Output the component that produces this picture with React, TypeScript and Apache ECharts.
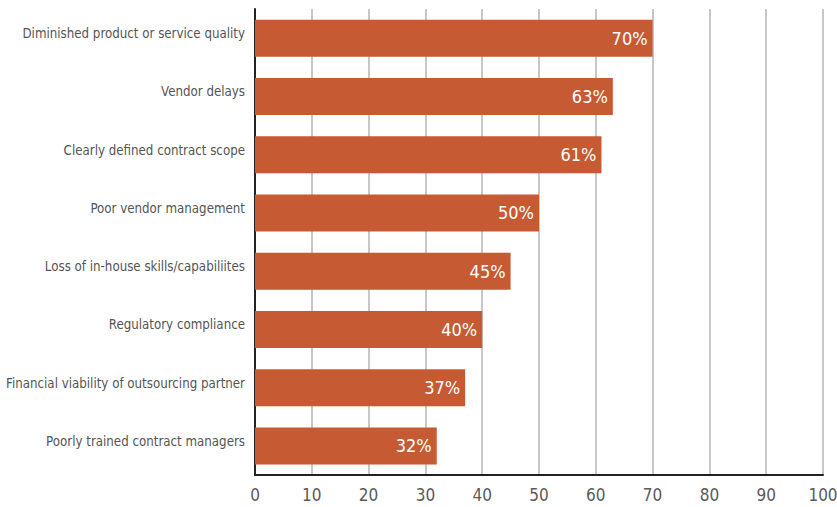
import React, { useEffect, useRef } from "react";
import * as echarts from "echarts";

const categories = [
  "Diminished product or service quality",
  "Vendor delays",
  "Clearly defined contract scope",
  "Poor vendor management",
  "Loss of in-house skills/capabiliites",
  "Regulatory compliance",
  "Financial viability of outsourcing partner",
  "Poorly trained contract managers",
];
const values = [70, 63, 61, 50, 45, 40, 37, 32];
const xTicks = { min: 0, max: 100, interval: 10 };

const FONT = '"DejaVu Sans Condensed", "Liberation Sans Narrow", sans-serif';

export default function App() {
  const ref = useRef<HTMLDivElement>(null);
  useEffect(() => {
    if (!ref.current) return;
    const chart = echarts.init(ref.current, null, { renderer: "svg" });
    chart.setOption({
      animation: false,
      grid: { left: 255, right: 14, top: 9, bottom: 32, containLabel: false, outerBoundsMode: "none" },
      xAxis: {
        type: "value",
        min: xTicks.min,
        max: xTicks.max,
        interval: xTicks.interval,
        axisLine: { show: true, lineStyle: { color: "#222", width: 2 } },
        axisTick: { show: false },
        splitLine: { show: true, lineStyle: { color: "#b4b4b8", width: 1.5 } },
        axisLabel: { color: "#5a5a5a", fontFamily: FONT, fontSize: 17, margin: 11 },
      },
      yAxis: {
        type: "category",
        inverse: true,
        data: categories,
        axisLine: { show: true, lineStyle: { color: "#222", width: 2 } },
        axisTick: { show: false },
        axisLabel: {
          margin: 10,
          formatter: (v: string) => "{a|" + v + "}",
          rich: {
            a: {
              color: "#555",
              fontFamily: FONT,
              fontSize: 13.2,
              padding: [0, 0, 9, 0],
            },
          },
        },
      },
      series: [
        {
          type: "bar",
          data: values,
          barWidth: 37,
          itemStyle: { color: "#C65A33" },
          label: {
            show: true,
            position: "insideRight",
            distance: 5,
            formatter: "{c}%",
            color: "#fff",
            fontFamily: FONT,
            fontSize: 18,
          },
        },
      ],
    });
    return () => chart.dispose();
  }, []);
  return (
    <div
      ref={ref}
      style={{ position: "fixed", left: 0, top: 0, width: 837, height: 507, background: "#fff" }}
    />
  );
}
